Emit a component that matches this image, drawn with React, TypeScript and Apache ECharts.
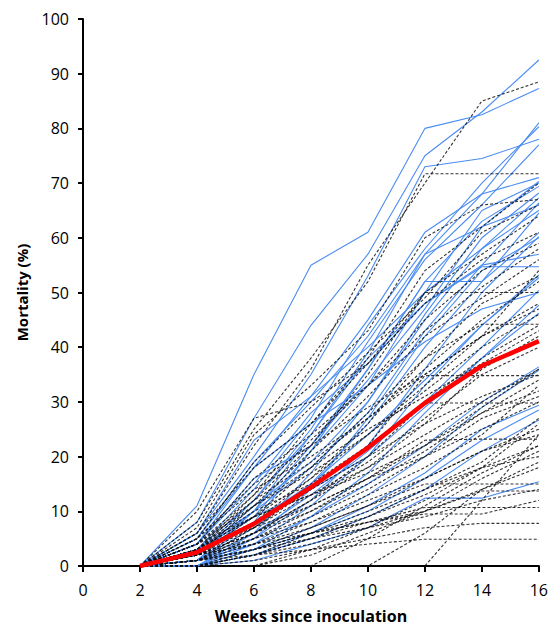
import React, { useEffect, useRef } from "react";
import * as echarts from "echarts";

const weeks = [2, 4, 6, 8, 10, 12, 14, 16];
const xTicks = [0, 2, 4, 6, 8, 10, 12, 14, 16];

const meanMortality = [0, 2.5, 7.7, 14.4, 21.6, 29.8, 36.6, 41.1];

const blueSeries: number[][] = [
  [0, 11, 35, 55, 61, 80, 82.5, 87.3],
  [0, 8, 27, 44, 57, 75, 83, 92.5],
  [0, 6, 20, 35, 53, 73, 74.5, 78],
  [0, 5, 18, 31, 45, 61, 68, 81],
  [0, 3, 14, 27, 44, 58, 70, 80.3],
  [0, 2, 12, 25, 41, 56, 66, 77],
  [0, 4, 16, 22, 34, 47, 62, 70.3],
  [0, 1, 8, 21, 36, 52, 63, 69.4],
  [0, 2, 11, 19, 30, 46, 60, 68.2],
  [0, 0, 6, 17, 30, 45, 58, 67.3],
  [0, 3, 10, 18, 28, 43, 55, 66.4],
  [0, 1, 7, 15, 26, 40, 52, 64.5],
  [0, 3, 12, 24, 38, 48, 54.7, 54.7],
  [0, 2, 10, 22, 36, 52, 52, 60.9],
  [0, 1, 5, 12, 22, 36, 50, 60.2],
  [0, 0, 4, 11, 20, 33, 44, 53.2],
  [0, 2, 8, 15, 24, 34, 44, 52.7],
  [0, 1, 6, 13, 21, 30, 40, 50.4],
  [0, 3, 9, 14, 20, 29, 38, 47.7],
  [0, 0, 3, 9, 17, 28, 38, 46.2],
  [0, 1, 4, 9, 15, 22, 30, 36.4],
  [0, 0, 3, 7, 13, 20, 29, 35.8],
  [0, 0, 2, 6, 11, 17, 25, 29.4],
  [0, 1, 3, 6, 10, 16, 23, 28.5],
  [0, 0, 2, 5, 9, 14, 21, 26.7],
  [0, 0, 1, 4, 7, 12.4, 12.4, 15.4],
  [0, 4, 15, 28, 37, 48, 55, 57],
  [0, 5, 19, 30, 42, 57, 62, 66],
  [0, 6, 23, 31, 40, 50, 58, 65],
  [0, 2, 9, 21, 33, 50, 65, 70],
  [0, 1, 10, 24, 39, 57, 68, 71],
  [0, 0, 5, 14, 27, 42, 54, 60],
  [0, 4, 18, 26, 33, 41, 47, 50],
];

const dashedSeries: number[][] = [
  [0, 6, 22, 36, 55, 70, 85, 88.5],
  [0, 8, 25, 38, 52, 71.7, 71.7, 71.7],
  [0, 7, 24, 33, 43, 60, 66, 67],
  [0, 5, 19, 29, 39, 49, 61, 66],
  [0, 3, 13, 26, 38, 54, 62, 70],
  [0, 10, 27, 30, 37, 50, 57, 64],
  [0, 4, 16, 24, 33, 45, 54, 59],
  [0, 2, 11, 21, 31, 42, 49, 56],
  [0, 3, 12, 22, 35, 50, 50, 50],
  [0, 2, 9, 18, 28, 38, 44.2, 44.2],
  [0, 1, 7, 14, 22, 34.8, 34.8, 34.8],
  [0, 2, 6, 12, 20, 29.8, 29.8, 29.8],
  [0, 1, 5, 10, 16, 23, 23.2, 23.2],
  [0, 0, 3, 7, 11, 15, 15, 15],
  [0, 0, 2, 5, 8, 10.7, 10.7, 10.7],
  [0, 1, 3, 6, 8, 9.5, 9.5, 12],
  [0, 0, 0, 0, 0, 0, 12, 24],
  [0, 0, 0, 0, 0, 6, 14, 19],
  [0, 0, 0, 0, 5, 11, 17, 22],
  [0, 0, 0, 3, 7, 12, 18, 26],
  [0, 0, 0, 2, 6, 10, 16, 21],
  [0, 0, 2, 6, 10, 14, 19, 27],
  [0, 1, 4, 8, 13, 18, 24, 33],
  [0, 2, 6, 11, 16, 22, 29, 36],
  [0, 3, 8, 14, 20, 26, 31, 35],
  [0, 2, 7, 13, 19, 27, 35, 40],
  [0, 4, 11, 17, 24, 32, 40, 46],
  [0, 5, 14, 20, 27, 36, 45, 52],
  [0, 3, 10, 15, 22, 30, 38, 44],
  [0, 1, 5, 9, 14, 20, 27, 31],
  [0, 2, 5, 8, 12, 16, 21, 25],
  [0, 1, 3, 6, 9, 13, 18, 22],
  [0, 0, 2, 4, 7, 10, 14, 18],
  [0, 1, 3, 5, 7, 9, 12, 14],
  [0, 2, 4, 6, 8, 10, 13.7, 13.7],
  [0, 0, 1, 3, 5, 7, 7.8, 7.8],
  [0, 1, 2, 3, 4, 4.9, 4.9, 4.9],
  [0, 3, 9, 16, 24, 33, 42, 54],
  [0, 4, 13, 23, 33, 43, 51, 58],
  [0, 6, 18, 26, 37, 48, 56, 61],
  [0, 2, 8, 16, 26, 38, 48, 53],
  [0, 1, 6, 12, 18, 26, 36, 42],
  [0, 3, 9, 13, 18, 24, 30, 36],
  [0, 2, 4, 7, 11, 16, 21, 24],
  [0, 0, 2, 5, 9, 14, 18, 20],
  [0, 4, 12, 19, 27, 35, 42, 47],
  [0, 5, 15, 22, 29, 35, 42, 48],
  [0, 3, 11, 18, 25, 31, 37, 43],
  [0, 2, 6, 10, 15, 21, 28, 34],
  [0, 3, 7, 11, 16, 20, 25, 30],
  [0, 4, 9, 13, 17, 22, 28, 32],
];

const FONT = "'Open Sans', 'Liberation Sans', sans-serif";

export default function App() {
  const ref = useRef<HTMLDivElement>(null);
  useEffect(() => {
    if (!ref.current) return;
    const chart = echarts.init(ref.current, undefined, { renderer: "svg" });
    const toPts = (vals: number[]) => weeks.map((w, i) => [w, vals[i]]);
    const series: any[] = [];
    blueSeries.forEach((vals, i) => {
      series.push({
        name: "b" + i,
        type: "line",
        data: toPts(vals),
        symbol: "none",
        lineStyle: { color: "#4a8cf2", width: 1.1 },
        silent: true,
        z: 2,
      });
    });
    dashedSeries.forEach((vals, i) => {
      series.push({
        name: "d" + i,
        type: "line",
        data: toPts(vals),
        symbol: "none",
        lineStyle: { color: "#111111", width: 1.1, type: [3, 2], opacity: 0.85 },
        silent: true,
        z: 3,
      });
    });
    series.push({
      name: "mean",
      type: "line",
      data: toPts(meanMortality),
      symbol: "none",
      lineStyle: { color: "#ff0000", width: 4.5 },
      silent: true,
      z: 4,
    });
    chart.setOption({
      animation: false,
      grid: { left: 83, right: 10, top: 19, bottom: 63, containLabel: false },
      xAxis: {
        type: "value",
        min: 0,
        max: 16,
        interval: 2,
        name: "Weeks since inoculation",
        nameLocation: "middle",
        nameGap: 42,
        nameTextStyle: { fontFamily: FONT, fontSize: 16, fontWeight: "bold", color: "#000" },
        axisLine: { show: true, onZero: false, lineStyle: { color: "#000", width: 2 } },
        axisTick: { show: true, length: 6, lineStyle: { color: "#000", width: 2 } },
        axisLabel: {
          fontFamily: FONT,
          fontSize: 16,
          color: "#000",
          margin: 16,
          formatter: (v: number) => (xTicks.includes(v) ? String(v) : ""),
        },
        splitLine: { show: false },
      },
      yAxis: {
        type: "value",
        min: 0,
        max: 100,
        interval: 10,
        name: "Mortality (%)",
        nameLocation: "middle",
        nameGap: 54,
        nameTextStyle: { fontFamily: FONT, fontSize: 15, fontWeight: "bold", color: "#000" },
        axisLine: { show: true, lineStyle: { color: "#000", width: 2 } },
        axisTick: { show: true, length: 5, lineStyle: { color: "#000", width: 2 } },
        axisLabel: { fontFamily: FONT, fontSize: 16, color: "#000", margin: 14 },
        splitLine: { show: false },
      },
      series,
    });
    return () => chart.dispose();
  }, []);
  return <div ref={ref} style={{ width: 551, height: 629, position: "absolute", left: 0, top: 0 }} />;
}
